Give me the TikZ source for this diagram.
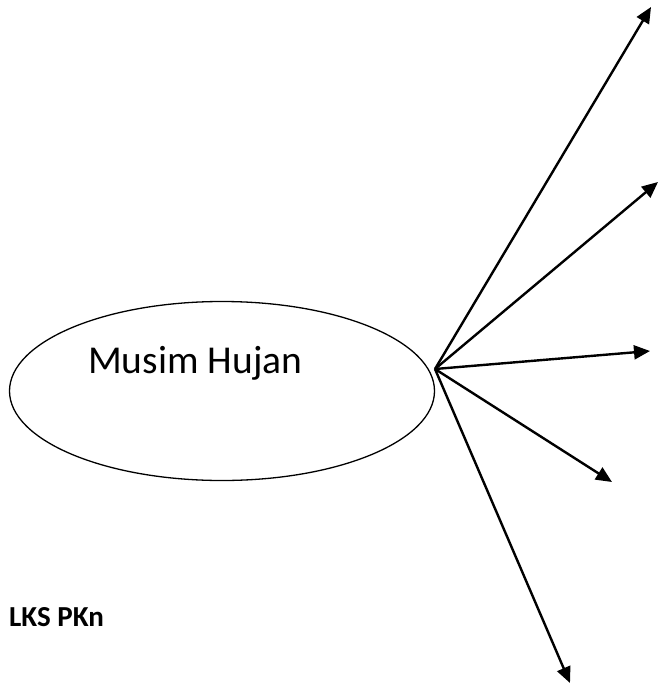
\documentclass[tikz,border=0pt]{standalone}
\usepackage{fontspec}
\setmainfont{Carlito}
\usepackage{tikz}
\usetikzlibrary{arrows.meta,shapes.geometric,positioning}

\begin{document}
\begin{tikzpicture}
[	x=1pt, y=-1pt,
	season/.style={draw, ellipse, line width=1.3pt, minimum width=425pt, minimum height=179pt, inner sep=0pt},
	seasontext/.style={font=\fontsize{39.5}{40}\selectfont, inner sep=0pt, anchor=base west},
	tag/.style={font=\fontsize{29}{30}\selectfont\bfseries, inner sep=0pt, anchor=base west},
	ray/.style={line width=2.4pt, -{Triangle[length=16pt,width=14pt]}}
]
\useasboundingbox (0,0) rectangle (659,685);

% ellipse and its text
\node(hujan)[season] at (222,391){};
\node(hujantext)[seasontext] at (88,373){Musim Hujan};

% label bottom left
\node(lks)[tag] at (9,626){LKS PKn};

% fan of arrows
\coordinate(fan) at (435,369);
\coordinate(tip1) at (651,7);
\coordinate(tip2) at (658,182);
\coordinate(tip3) at (650,351);
\coordinate(tip4) at (612,482);
\coordinate(tip5) at (570,683);

\foreach \t in {tip1,tip2,tip3,tip4,tip5}
	\draw[ray](fan)--(\t);

\end{tikzpicture}
\end{document}
